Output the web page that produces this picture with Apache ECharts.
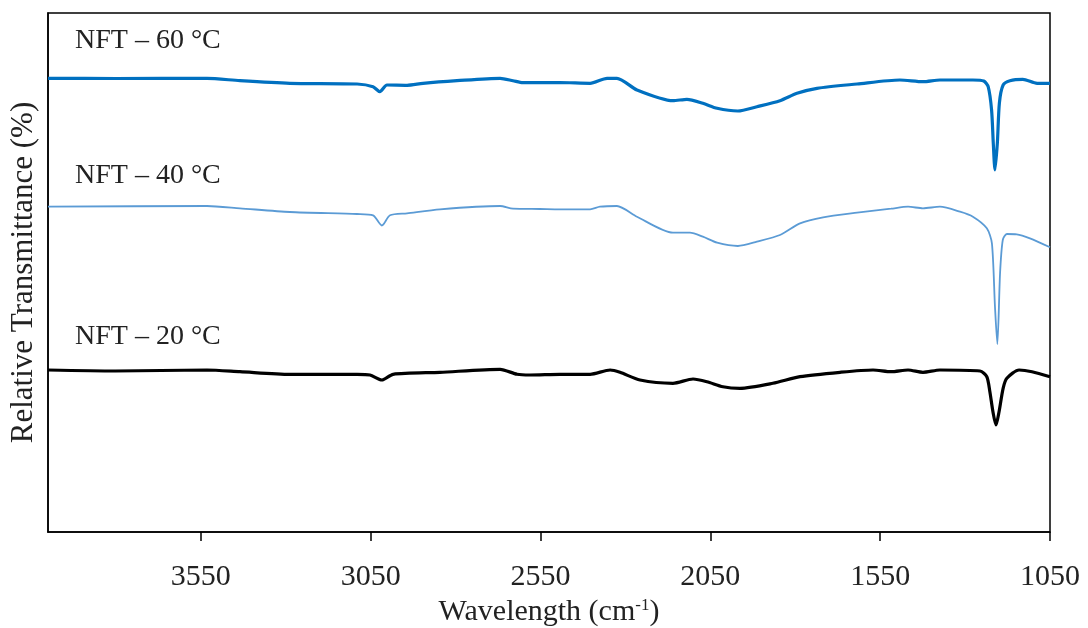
<!DOCTYPE html>
<html>
<head>
<meta charset="utf-8">
<script src="https://cdn.jsdelivr.net/npm/echarts@6/dist/echarts.min.js"></script>
<style>
html,body{margin:0;padding:0;background:#fff;}
#chart{width:1088px;height:628px;}
</style>
</head>
<body>
<div id="chart"></div>
<script>
// X tick labels (wavenumber, cm-1)
var xTicks = [1050, 1550, 2050, 2550, 3050, 3550];

// Series labels
var seriesNames = ['NFT – 60 °C', 'NFT – 40 °C', 'NFT – 20 °C'];

// NFT – 60 °C (relative transmittance, arbitrary offset units)
var w60 = [4000, 3800, 3532, 3435, 3288, 3090, 3043, 3023, 3002, 2943, 2896, 2796, 2669, 2631, 2602, 2552, 2493, 2404, 2354, 2325, 2266, 2160, 2119, 2072, 2030, 1969, 1913, 1845, 1795, 1736, 1618, 1492, 1424, 1374, 1277, 1245, 1232, 1222, 1217, 1212, 1205, 1199, 1188, 1168, 1130, 1088, 1050];
var v60 = [453.7, 453.5, 453.7, 451.3, 448.7, 448, 445.3, 440.3, 447, 446.7, 448.7, 451.3, 453.7, 451.3, 449.3, 449.3, 449.5, 448.7, 453.7, 453.7, 442, 431.3, 432.7, 428.7, 423.7, 421, 425.3, 431.3, 438.7, 443.7, 448, 452, 450.3, 452, 452, 451, 445.3, 422, 389, 362, 389, 429, 447, 451.3, 452.7, 448.7, 448.7];

// NFT – 40 °C
var w40 = [4000, 3532, 3435, 3288, 3090, 3043, 3017, 2993, 2943, 2846, 2669, 2631, 2552, 2493, 2404, 2375, 2325, 2266, 2160, 2110, 2072, 2030, 1969, 1913, 1845, 1786, 1718, 1618, 1518, 1468, 1424, 1374, 1315, 1277, 1236, 1221, 1212, 1205, 1197, 1189, 1177, 1148, 1109, 1050];
var v40 = [325.3, 326, 323.7, 320, 318, 316.7, 306.5, 316.7, 318.7, 322.7, 326, 323.3, 323, 322.7, 322.7, 325.3, 326, 315.3, 299.3, 299.3, 295.3, 289.3, 286, 290.3, 297, 308.7, 314.7, 319.3, 323.3, 325.3, 323.7, 325.3, 320.3, 315.3, 303.7, 288.7, 225.3, 188, 259, 292, 298, 297.7, 293.7, 284.7];

// NFT – 20 °C
var w20 = [4000, 3802, 3532, 3435, 3288, 3090, 3052, 3017, 2984, 2846, 2669, 2619, 2581, 2493, 2404, 2345, 2316, 2257, 2160, 2101, 2060, 2013, 1963, 1866, 1786, 1668, 1571, 1518, 1468, 1424, 1374, 1256, 1236, 1227, 1218, 1209, 1200, 1188, 1177, 1141, 1103, 1050];
var v20 = [162, 161, 162, 160.3, 157.7, 157.7, 157, 152, 157.7, 159.7, 162.7, 157.7, 157, 157.7, 157.7, 162, 159.7, 152, 148.7, 153, 150.3, 145.3, 143.7, 148.7, 155.3, 159.7, 162, 160.3, 162, 159.7, 162, 161, 155.3, 140.3, 120.3, 107, 120.3, 143.7, 153.7, 162, 160.3, 155.3];

function pairs(w, v) { return w.map(function (x, i) { return [x, v[i]]; }); }

var FONT = '"Liberation Serif", "DejaVu Serif", serif';
var chart = echarts.init(document.getElementById('chart'), null, { renderer: 'canvas' });

chart.setOption({
  backgroundColor: '#ffffff',
  animation: false,
  grid: { left: 48, right: 38, top: 13, bottom: 96, show: true, borderColor: '#000', borderWidth: 1.5,
    backgroundColor: 'transparent', containLabel: false, outerBoundsMode: 'none' },
  xAxis: {
    type: 'value', min: 1050, max: 4000, inverse: true,
    name: '{a|Wavelength (cm}{s|-1}{a|)}',
    nameLocation: 'middle', nameGap: 61,
    nameTextStyle: { rich: {
      a: { fontFamily: FONT, fontSize: 30, color: '#222' },
      s: { fontFamily: FONT, fontSize: 17, color: '#222', verticalAlign: 'top', padding: [0, 0, 14, 0] }
    } },
    axisLine: { show: true, lineStyle: { color: '#000', width: 1.5 } },
    axisTick: { show: true, inside: false, length: 9, lineStyle: { color: '#000', width: 1.5 }, customValues: xTicks },
    axisLabel: { customValues: xTicks, fontFamily: FONT, fontSize: 30, color: '#222', margin: 30,
      formatter: function (v) { return String(v); } },
    splitLine: { show: false }
  },
  yAxis: {
    type: 'value', min: 0, max: 519,
    name: 'Relative Transmittance (%)',
    nameLocation: 'middle', nameGap: 9,
    nameTextStyle: { fontFamily: FONT, fontSize: 31, color: '#222' },
    axisLine: { show: true, lineStyle: { color: '#000', width: 1.5 } },
    axisTick: { show: false }, axisLabel: { show: false }, splitLine: { show: false }
  },
  series: [
    { name: seriesNames[0], type: 'line', data: pairs(w60, v60), showSymbol: false, smooth: 0.25,
      lineStyle: { color: '#0070C0', width: 3.2 }, z: 3 },
    { name: seriesNames[1], type: 'line', data: pairs(w40, v40), showSymbol: false, smooth: 0.25,
      lineStyle: { color: '#5B9BD5', width: 1.8 }, z: 2 },
    { name: seriesNames[2], type: 'line', data: pairs(w20, v20), showSymbol: false, smooth: 0.25,
      lineStyle: { color: '#000000', width: 3.2 }, z: 1 }
  ],
  graphic: [
    { type: 'text', left: 75, top: 27, style: { text: seriesNames[0], font: '28px ' + FONT, fill: '#222' } },
    { type: 'text', left: 75, top: 162, style: { text: seriesNames[1], font: '28px ' + FONT, fill: '#222' } },
    { type: 'text', left: 75, top: 323, style: { text: seriesNames[2], font: '28px ' + FONT, fill: '#222' } }
  ]
});
</script>
</body>
</html>
